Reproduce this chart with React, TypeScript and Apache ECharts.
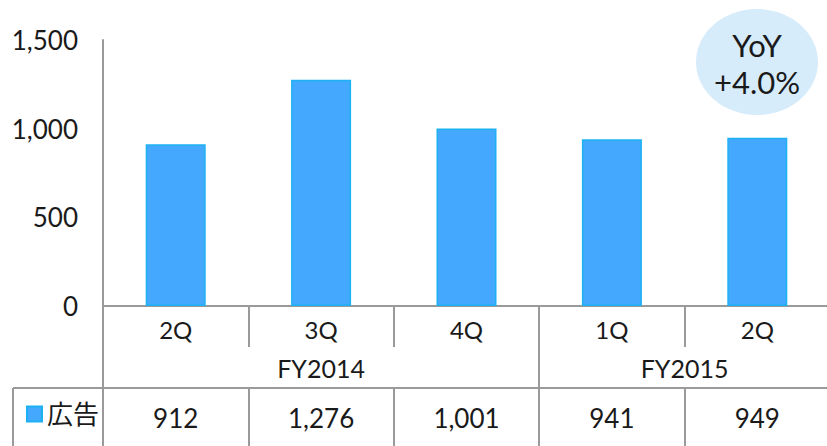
import React, { useEffect, useRef } from "react";
import * as echarts from "echarts";

const quarters = ["2Q", "3Q", "4Q", "1Q", "2Q"];
const fiscalYears = ["FY2014", "FY2015"];
const groupSizes = [3, 2];
const adValues = [912, 1276, 1001, 941, 949];
const seriesName = "広告";
const yoyText = "YoY\n+4.0%";
const yTicks = { min: 0, max: 1500, interval: 500 };

const FONT = "Lato, 'Noto Sans CJK JP', sans-serif";
const TEXT = "#1a1a1a";
const LINE = "#9a9a9a";

const fmt = (v: number) => Number(v).toLocaleString("en-US");

export default function App() {
  const ref = useRef<HTMLDivElement>(null);
  useEffect(() => {
    document.body.style.margin = "0";
    if (!ref.current) return;
    const chart = echarts.init(ref.current, null, { renderer: "svg" });
    const total = groupSizes.reduce((a, b) => a + b, 0);
    const groupCenters: number[] = [];
    let acc = 0;
    groupSizes.forEach((s) => {
      groupCenters.push(acc + s / 2);
      acc += s;
    });

    chart.setOption({
      animation: false,
      textStyle: { fontFamily: FONT },
      grid: { left: 103, top: 40, width: 727, height: 266, outerBoundsMode: "none", containLabel: false },
      legend: {
        data: [seriesName],
        left: 21,
        top: 396,
        icon: "rect",
        itemWidth: 15,
        itemHeight: 15,
        textStyle: { fontSize: 26, color: TEXT, fontFamily: FONT },
      },
      xAxis: [
        {
          type: "category",
          data: quarters,
          position: "bottom",
          axisLine: { show: true, lineStyle: { color: LINE, width: 2 } },
          axisTick: { show: true, interval: 0, length: 41, lineStyle: { color: LINE, width: 2 } },
          axisLabel: { interval: 0, fontSize: 24, color: TEXT, margin: 11, fontFamily: FONT },
        },
        {
          type: "value",
          min: 0,
          max: total,
          interval: 0.5,
          position: "bottom",
          offset: 41,
          axisLine: { show: false },
          axisTick: { show: false },
          splitLine: { show: false },
          axisLabel: {
            fontSize: 25,
            color: TEXT,
            margin: 8,
            fontFamily: FONT,
            showMinLabel: true,
            showMaxLabel: true,
            formatter: (v: number) => {
              const i = groupCenters.findIndex((c) => Math.abs(c - v) < 1e-6);
              return i >= 0 ? fiscalYears[i] : "";
            },
          },
        },
        {
          type: "category",
          data: adValues.map(fmt),
          position: "bottom",
          offset: 82,
          axisLine: { show: true, lineStyle: { color: LINE, width: 2 } },
          axisTick: { show: true, interval: 0, length: 62, lineStyle: { color: LINE, width: 2 } },
          axisLabel: { interval: 0, fontSize: 26, color: TEXT, margin: 17, fontFamily: FONT },
        },
        {
          type: "value",
          min: 0,
          max: total,
          interval: groupSizes[0],
          position: "bottom",
          offset: 0,
          axisLine: { show: false },
          axisTick: { show: true, length: 142, lineStyle: { color: LINE, width: 2 } },
          splitLine: { show: false },
          axisLabel: { show: false },
        },
      ],
      yAxis: {
        type: "value",
        min: yTicks.min,
        max: yTicks.max,
        interval: yTicks.interval,
        axisLine: { show: true, lineStyle: { color: LINE, width: 2 } },
        axisTick: { show: false },
        splitLine: { show: false },
        axisLabel: { fontSize: 26, color: TEXT, margin: 25, fontFamily: FONT, formatter: fmt },
      },
      series: [
        {
          type: "bar",
          name: seriesName,
          xAxisIndex: 0,
          data: adValues,
          barWidth: 60,
          itemStyle: { color: "#45A8FF", borderColor: "#1CB2F2", borderWidth: 1.5 },
        },
      ],
      graphic: [
        {
          type: "line",
          shape: { x1: 13, y1: 388, x2: 103, y2: 388 },
          style: { stroke: LINE, lineWidth: 2 },
        },
        {
          type: "line",
          shape: { x1: 13, y1: 388, x2: 13, y2: 446 },
          style: { stroke: LINE, lineWidth: 2 },
        },
        {
          type: "ellipse",
          shape: { cx: 757, cy: 62, rx: 61, ry: 53 },
          style: { fill: "#D6ECFB" },
        },
        {
          type: "text",
          x: 757,
          y: 63,
          style: {
            text: yoyText,
            fontSize: 31,
            lineHeight: 37,
            fontFamily: FONT,
            align: "center",
            verticalAlign: "middle",
            fill: TEXT,
          },
        },
      ],
    });
    return () => chart.dispose();
  }, []);
  return <div ref={ref} style={{ width: 827, height: 446 }} />;
}
